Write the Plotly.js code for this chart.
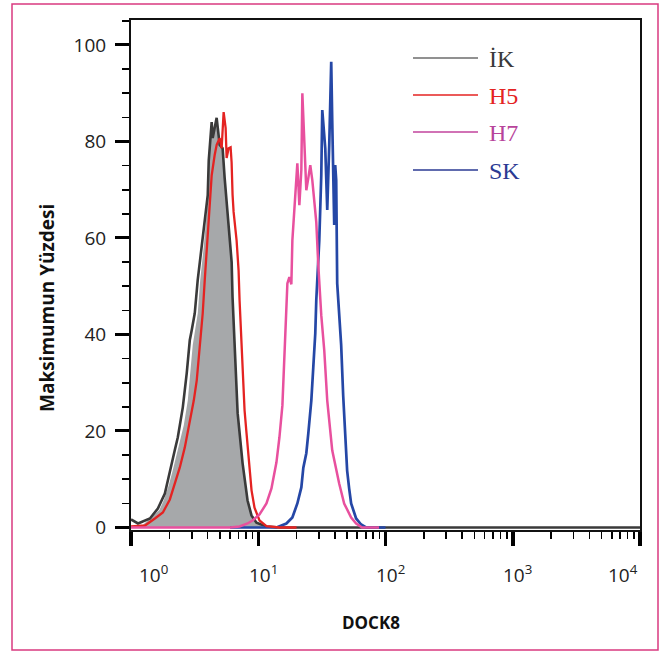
<!DOCTYPE html>
<html><head><meta charset="utf-8">
<script src="https://cdn.plot.ly/plotly-3.0.1.min.js"></script>
<style>html,body{margin:0;padding:0;background:#fff;} #chart{width:662px;height:654px;}</style>
</head><body><div id="chart"></div>
<script>
// Series names (legend)
const seriesNames = ['İK', 'H5', 'H7', 'SK'];

// İK (isotype control) outline
const ikX = [1.0, 1.135, 1.409, 1.626, 1.845, 2.018, 2.208, 2.333, 2.553, 2.742, 2.897, 3.0, 3.17, 3.342, 3.597, 3.864, 4.009, 4.083, 4.227, 4.305, 4.385, 4.55, 4.71, 4.977, 5.248, 5.445, 5.741, 5.957, 6.18, 6.281, 6.516, 6.887, 7.534, 8.241, 8.851, 9.683, 11.61, 14.79, 10000];
const ikY = [1.66, 0.83, 1.87, 3.94, 7.05, 11.8, 16.0, 18.7, 24.9, 32.0, 38.8, 40.9, 44.4, 51.2, 58.1, 65.1, 68.9, 76.1, 80.3, 84.0, 80.7, 82.8, 84.9, 79.3, 78.6, 72.4, 65.4, 60.6, 55.0, 47.7, 37.3, 23.7, 13.3, 5.6, 2.5, 1.0, 0.2, 0, 0];

// Grey filled histogram
const fillX = [1.176, 1.359, 1.672, 1.813, 1.984, 2.132, 2.333, 2.599, 2.794, 2.923, 3.057, 3.346, 3.499, 3.727, 3.935, 4.044, 4.117, 4.227, 4.305, 4.385, 4.55, 4.71, 4.977, 5.248, 5.445, 5.741, 5.957, 6.18, 6.281, 6.516, 6.887, 7.534, 8.241, 8.851, 9.683, 11.19];
const fillY = [0, 1.55, 3.63, 5.70, 8.81, 11.9, 16.1, 21.2, 26.3, 31.6, 37.8, 44.4, 51.3, 58.1, 65.1, 68.9, 76.1, 80.3, 83.6, 80.7, 82.6, 84.6, 79.3, 78.6, 72.4, 65.4, 60.6, 55.0, 47.7, 37.3, 23.7, 13.3, 5.6, 2.5, 1.0, 0];

// H5
const h5X = [1.0, 1.287, 1.541, 1.780, 2.020, 2.211, 2.419, 2.647, 2.896, 3.113, 3.286, 3.468, 3.661, 3.796, 3.935, 4.079, 4.306, 4.545, 4.712, 4.974, 5.157, 5.346, 5.542, 5.643, 5.850, 6.064, 6.174, 6.285, 6.401, 6.757, 7.005, 7.132, 7.394, 7.529, 7.806, 8.091, 8.543, 8.857, 9.346, 10.23, 11.60, 14.67, 20];
const h5Y = [0.21, 0.41, 1.87, 3.11, 5.81, 8.92, 12.45, 16.6, 22.0, 26.3, 30.5, 37.8, 44.4, 51.2, 58.1, 65.1, 73.0, 77.2, 79.3, 80.7, 78.6, 86.1, 82.8, 76.6, 78.6, 78.8, 75.7, 68.9, 65.4, 59.5, 53.3, 47.1, 38.8, 33.2, 24.3, 19.5, 11.8, 7.7, 4.1, 1.45, 0.3, 0, 0];

// H7
const h7X = [1.0, 6.0, 7.132, 8.239, 9.016, 10.23, 11.60, 12.70, 13.90, 14.67, 15.48, 16.05, 16.64, 16.94, 17.56, 18.21, 18.54, 19.22, 19.93, 20.29, 21.04, 21.81, 22.21, 23.01, 23.86, 24.74, 25.64, 26.59, 27.56, 28.58, 29.63, 31.28, 33.02, 34.85, 38.13, 40.98, 43.25, 47.33, 53.70, 58.76, 65.46, 88.95];
const h7Y = [0, 0, 0.21, 0.83, 1.45, 2.70, 4.98, 8.09, 13.5, 18.7, 25.3, 34.6, 43.4, 50.6, 51.9, 50.4, 59.5, 65.8, 71.4, 75.5, 66.8, 74.1, 90.0, 80.3, 69.9, 72.4, 75.1, 72.0, 67.8, 63.3, 54.4, 44.0, 36.7, 26.3, 16.0, 11.8, 9.13, 4.98, 2.07, 0.83, 0, 0];

// SK
const skX = [6.0, 13.90, 16.64, 18.54, 20.29, 21.81, 22.61, 23.86, 24.74, 26.12, 27.07, 28.06, 28.58, 29.09, 30.17, 31.28, 31.85, 33.62, 34.85, 36.13, 36.78, 37.45, 38.13, 38.82, 39.54, 40.25, 40.98, 41.73, 43.25, 44.84, 46.49, 48.19, 49.95, 51.79, 53.70, 58.76, 64.29, 70.38, 100];
const skY = [0, 0, 0.83, 2.07, 4.98, 8.30, 12.4, 15.4, 19.5, 26.3, 33.2, 40.2, 47.1, 51.2, 59.5, 73.0, 86.5, 78.6, 65.8, 79.3, 88.6, 96.5, 84.4, 73.0, 62.7, 75.1, 72.0, 50.6, 44.0, 37.8, 27.4, 19.1, 11.8, 8.09, 4.98, 1.87, 0.62, 0, 0];

// Axis ticks
const xTickVals = [1, 10, 100, 1000, 10000];
const xTickText = ['10<sup>0</sup>', '10<sup>1</sup>', '10<sup>2</sup>', '10<sup>3</sup>', '10<sup>4</sup>'];
const xMinorVals = [2,3,4,5,6,7,8,9,20,30,40,50,60,70,80,90,200,300,400,500,600,700,800,900,2000,3000,4000,5000,6000,7000,8000,9000];
const yTickVals = [0, 20, 40, 60, 80, 100];
const xTitle = 'DOCK8';
const yTitle = 'Maksimumun Yüzdesi';

const lineColors = ['#3a3a3a', '#e42322', '#e8509e', '#2547a6'];
const legendLineColors = ['#6d6d6d', '#e42322', '#c2439c', '#2b3a93'];
const legendTextColors = ['#3a3a3a', '#e42322', '#b7449b', '#2b3a93'];

const traces = [
  {x: fillX, y: fillY, type: 'scatter', mode: 'lines', fill: 'tozeroy', fillcolor: '#a6a8aa', line: {width: 0, color: '#a6a8aa'}, showlegend: false, hoverinfo: 'skip'},
  {x: ikX, y: ikY, name: seriesNames[0], type: 'scatter', mode: 'lines', line: {color: lineColors[0], width: 2.6}},
  {x: skX, y: skY, name: seriesNames[3], type: 'scatter', mode: 'lines', line: {color: lineColors[3], width: 2.7}},
  {x: h5X, y: h5Y, name: seriesNames[1], type: 'scatter', mode: 'lines', line: {color: lineColors[1], width: 2.3}},
  {x: h7X, y: h7Y, name: seriesNames[2], type: 'scatter', mode: 'lines', line: {color: lineColors[2], width: 2.5}}
];

const W = 509, H = 510, L = 131, T = 20;
const px = v => (v - L) / W;
const py = v => (T + H - v) / H;

const legendRows = [58, 95, 132, 170];
const shapes = [];
const annotations = [];
seriesNames.forEach((n, i) => {
  shapes.push({type: 'line', xref: 'paper', yref: 'paper', x0: px(413), x1: px(478), y0: py(legendRows[i]), y1: py(legendRows[i]), line: {color: legendLineColors[i], width: 1.5}});
  annotations.push({xref: 'paper', yref: 'paper', x: px(487), y: py(legendRows[i] + 1), xanchor: 'left', yanchor: 'middle', showarrow: false, text: n, font: {family: 'Liberation Serif', size: 24, color: legendTextColors[i]}});
});
// outer pink frame
shapes.push({type: 'rect', xref: 'paper', yref: 'paper', x0: px(12), x1: px(658), y0: py(650), y1: py(4), line: {color: '#d93a80', width: 1.5}});

// x tick labels, placed on the log axis (end labels nudged inward like the original)
const xLabelShift = [22, 5, 5, 5, -17];
xTickVals.forEach((v, i) => {
  annotations.push({xref: 'x', yref: 'paper', x: Math.log10(v), y: py(558), xanchor: 'center', yanchor: 'top', xshift: xLabelShift[i], showarrow: false, text: xTickText[i], font: {family: 'Open Sans', size: 19, color: '#222'}});
});

annotations.push({xref: 'paper', yref: 'paper', x: px(47), y: py(308), xanchor: 'center', yanchor: 'middle', textangle: -90, showarrow: false, text: yTitle, font: {family: 'Open Sans', size: 19, color: '#111', weight: 'bold'}});
annotations.push({xref: 'paper', yref: 'paper', x: px(371), y: py(622), xanchor: 'center', yanchor: 'middle', showarrow: false, text: xTitle, font: {family: 'Open Sans', size: 17, color: '#111', weight: 'bold'}});

const layout = {
  width: 662, height: 654,
  margin: {l: L, r: 662 - L - W, t: T, b: 654 - T - H, pad: 0},
  paper_bgcolor: '#fff', plot_bgcolor: '#fff',
  showlegend: false,
  xaxis: {
    type: 'log', range: [0, 4], tickmode: 'array', tickvals: xTickVals, showticklabels: false,
    ticks: 'outside', ticklen: 14, tickwidth: 3.5, tickcolor: '#000',
    showline: true, linecolor: '#111', linewidth: 2, mirror: true,
    showgrid: false, zeroline: false,
    minor: {tickmode: 'array', tickvals: xMinorVals, ticks: 'outside', ticklen: 7, tickwidth: 1.6, tickcolor: '#000', showgrid: false}
  },
  yaxis: {
    range: [-0.52, 105.18], tickmode: 'array', tickvals: yTickVals,
    ticks: 'outside', ticklen: 14, tickwidth: 3, tickcolor: '#000',
    showline: true, linecolor: '#111', linewidth: 2, mirror: true,
    showgrid: false, zeroline: false, ticklabelstandoff: 5,
    tickfont: {family: 'Open Sans', size: 19, color: '#222'},
    minor: {dtick: 5, tick0: 0, ticks: 'outside', ticklen: 7, tickwidth: 1.6, tickcolor: '#000', showgrid: false}
  },
  shapes: shapes,
  annotations: annotations
};

Plotly.newPlot('chart', traces, layout, {displayModeBar: false, staticPlot: true});
</script>
</body></html>
